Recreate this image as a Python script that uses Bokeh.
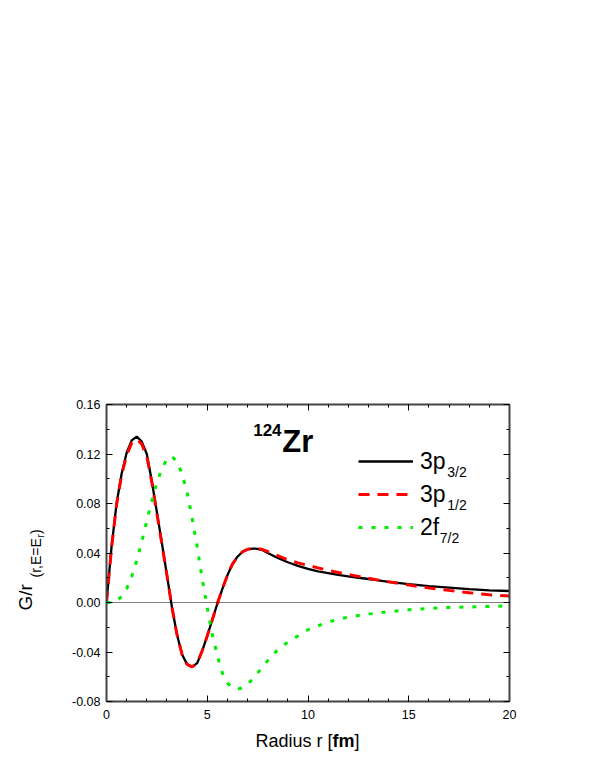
from math import pi
from bokeh.plotting import figure
from bokeh.models import (Range1d, LinearAxis, FixedTicker, NumeralTickFormatter,
                          CustomJSTickFormatter, Span, Label, Legend, LegendItem,
                          ColumnDataSource)
from bokeh.embed import file_html
from bokeh.resources import INLINE

# ---------------- data ----------------
radius = [0, 0.25, 0.5, 0.75, 1, 1.25, 1.5, 1.75, 2, 2.25, 2.5, 2.75, 3, 3.25, 3.5, 3.75,
          4, 4.25, 4.5, 4.75, 5, 5.25, 5.5, 5.75, 6, 6.25, 6.5, 6.75, 7, 7.25, 7.5, 7.75,
          8, 8.5, 9, 9.5, 10, 10.5, 11, 11.5, 12, 12.5, 13, 13.5, 14, 15, 16, 17, 18, 19, 20]

g_3p32 = [0.000, 0.045, 0.080, 0.104, 0.121, 0.131, 0.134, 0.130, 0.120, 0.098, 0.073, 0.048,
          0.022, -0.004, -0.026, -0.042, -0.050, -0.052, -0.049, -0.039, -0.027, -0.014,
          -0.001, 0.011, 0.022, 0.031, 0.037, 0.041, 0.0430, 0.0436, 0.0434, 0.0423,
          0.0400, 0.0360, 0.0325, 0.0296, 0.0272, 0.0252, 0.0238, 0.0224, 0.0211, 0.0200,
          0.0190, 0.0178, 0.0167, 0.0148, 0.0133, 0.0121, 0.0108, 0.0098, 0.0093]

g_3p12 = [0.000, 0.044, 0.079, 0.103, 0.119, 0.129, 0.132, 0.128, 0.118, 0.097, 0.072, 0.047,
          0.022, -0.004, -0.026, -0.042, -0.050, -0.052, -0.049, -0.039, -0.027, -0.014,
          -0.001, 0.011, 0.022, 0.031, 0.037, 0.041, 0.0430, 0.0437, 0.0436, 0.0428,
          0.0412, 0.0378, 0.0345, 0.0320, 0.0300, 0.0280, 0.0260, 0.0243, 0.0226, 0.0211,
          0.0196, 0.0181, 0.0167, 0.0141, 0.0118, 0.0098, 0.0079, 0.0063, 0.0052]

g_2f72 = [0.000, 0.000, 0.001, 0.005, 0.011, 0.021, 0.034, 0.049, 0.066, 0.082, 0.097, 0.108,
          0.116, 0.118, 0.114, 0.104, 0.089, 0.068, 0.045, 0.019, -0.004, -0.026, -0.043,
          -0.057, -0.065, -0.069, -0.070, -0.069, -0.066, -0.062, -0.057, -0.052, -0.047,
          -0.038, -0.032, -0.027, -0.022, -0.0188, -0.0158, -0.0136, -0.0118, -0.0105,
          -0.0094, -0.0084, -0.0075, -0.0059, -0.0048, -0.0040, -0.0036, -0.0032, -0.0027]

x_major = [0, 5, 10, 15, 20]
x_minor = list(range(0, 21))
y_major = [-0.08, -0.04, 0.0, 0.04, 0.08, 0.12, 0.16]
y_minor = [-0.08, -0.06, -0.04, -0.02, 0.0, 0.02, 0.04, 0.06, 0.08, 0.10, 0.12, 0.14, 0.16]

series_labels = ["3p", "3p", "2f"]
series_subs = ["3/2", "1/2", "7/2"]

FONT = "Liberation Sans"

# ---------------- layout (canvas pixels) ----------------
W, H = 595, 770
FL, FT, FW, FH = 106, 404, 403, 297   # frame left/top/width/height
X0, X1, Y0, Y1 = 0, 20, -0.08, 0.16
MID = 0.35   # baseline offset below a "middle"-anchored text, in em


def pdx(px):
    return X0 + (px - FL) / FW * (X1 - X0)


def pdy(py):
    return Y1 - (py - FT) / FH * (Y1 - Y0)


p = figure(x_range=Range1d(X0, X1), y_range=Range1d(Y0, Y1),
           frame_width=FW, frame_height=FH,
           min_border_left=FL, min_border_top=FT,
           min_border_right=W - FL - FW, min_border_bottom=H - FT - FH,
           output_backend="svg", toolbar_location=None,
           background_fill_color="white", border_fill_color="white")
p.outline_line_color = None
p.grid.visible = False

src = ColumnDataSource(dict(r=radius, a=g_3p32, b=g_3p12, c=g_2f72))

zero = Span(location=0, dimension="width", line_color="black", line_width=1,
            line_dash="1 1")
p.add_layout(zero)

rb = p.line("r", "a", source=src, line_color="black", line_width=2.3)
rr = p.line("r", "b", source=src, line_color="#ff0000", line_width=3, line_dash="11 8")
rg = p.line("r", "c", source=src, line_color="#00ee00", line_width=3, line_dash="4 9")


def style_axis(ax, ticks, minors, show_labels):
    ax.ticker = FixedTicker(ticks=ticks, minor_ticks=minors)
    ax.axis_line_color = "#444444"
    ax.axis_line_width = 2
    ax.major_tick_in = 6
    ax.major_tick_out = 0
    ax.minor_tick_in = 3
    ax.minor_tick_out = 0
    ax.major_tick_line_color = "black"
    ax.minor_tick_line_color = "black"
    ax.major_tick_line_width = 1
    ax.minor_tick_line_width = 1
    ax.major_label_text_font = FONT
    ax.major_label_text_font_size = "12.5px"
    ax.major_label_text_color = "black"
    if not show_labels:
        ax.formatter = CustomJSTickFormatter(code="return ''")


style_axis(p.xaxis[0], x_major, x_minor, True)
p.xaxis[0].major_label_standoff = 8
style_axis(p.yaxis[0], y_major, y_minor, True)
p.yaxis[0].formatter = NumeralTickFormatter(format="0.00")
p.yaxis[0].major_label_standoff = 6

top = LinearAxis()
style_axis(top, x_major, x_minor, False)
p.add_layout(top, "above")
right = LinearAxis()
style_axis(right, y_major, y_minor, False)
p.add_layout(right, "right")

# ---------------- legend ----------------
legend = Legend(items=[LegendItem(label=series_labels[0], renderers=[rb]),
                       LegendItem(label=series_labels[1], renderers=[rr]),
                       LegendItem(label=series_labels[2], renderers=[rg])],
                location=(252, 159), glyph_width=55, glyph_height=30, label_height=30,
                label_standoff=7, spacing=3, padding=0, margin=0,
                border_line_color=None, background_fill_alpha=0,
                label_text_font=FONT, label_text_font_size="23px", label_text_color="black")
p.add_layout(legend, "center")


def text_at(px, base_y, text, size, place="center", angle=0.0, base_x=None, **kw):
    """Place a text whose alphabetic baseline is at base_y (or base_x when rotated)."""
    if angle == 0.0:
        x, y = pdx(px), pdy(base_y - MID * size)
    else:
        x, y = pdx(base_x - MID * size), pdy(base_y)
    lab = Label(x=x, y=y, text=text, text_font=FONT, text_font_size=f"{size}px",
                text_align="left", text_baseline="middle", text_color="black",
                angle=angle, **kw)
    if place == "center":
        p.add_layout(lab)
    else:
        p.add_layout(lab, place)


# legend subscripts
sub_pos = [(446.7, 476.7), (446.7, 509.7), (439.3, 542.7)]
for s, (sx, sy) in zip(series_subs, sub_pos):
    text_at(sx, sy, s, 14)

# title
text_at(252.7, 435.0, "124", 17, text_font_style="bold")
text_at(281.7, 452.3, "Zr", 31, text_font_style="bold")

# axis titles (outside the frame -> side panel so they are not clipped)
text_at(255, 746.7, "Radius r [", 18, place="above")
text_at(255 + 77.0, 746.7, "fm", 18, place="above", text_font_style="bold")
text_at(255 + 77.0 + 22.0, 746.7, "]", 18, place="above")

text_at(None, 610, "G/r", 19, place="above", angle=pi / 2, base_x=32)
text_at(None, 577, "(r,E=E", 14, place="above", angle=pi / 2, base_x=40.5)
text_at(None, 537, "r", 10, place="above", angle=pi / 2, base_x=43.5)
text_at(None, 533.5, ")", 14, place="above", angle=pi / 2, base_x=40.5)

open("out.html", "w").write(file_html(p, INLINE))
